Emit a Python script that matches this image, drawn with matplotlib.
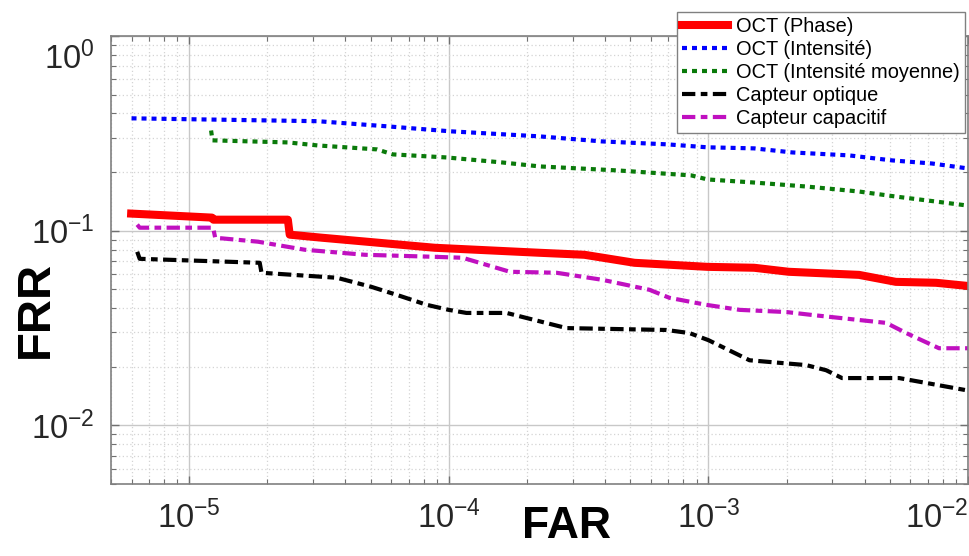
import matplotlib
matplotlib.use("Agg")
import matplotlib.pyplot as plt
from matplotlib.ticker import LogLocator, NullFormatter
from matplotlib.transforms import ScaledTranslation

plt.rcParams["font.family"] = ["Liberation Sans", "DejaVu Sans"]
plt.rcParams["mathtext.fontset"] = "custom"
plt.rcParams["mathtext.rm"] = "Liberation Sans"
plt.rcParams["mathtext.it"] = "Liberation Sans:italic"
plt.rcParams["mathtext.bf"] = "Liberation Sans:bold"

# --- data (FAR, FRR) ---
phase_far = [5.98e-6, 1.226e-5, 1.24e-5, 2.40e-5, 2.44e-5, 3.25e-5, 8.84e-5, 2.24e-4,
             3.33e-4, 5.19e-4, 9.91e-4, 1.50e-3, 2.04e-3, 3.80e-3, 5.27e-3, 7.53e-3, 1.0e-2]
phase_frr = [0.1224, 0.1167, 0.1139, 0.1139, 0.0954, 0.0920, 0.0817, 0.0770,
             0.0752, 0.0684, 0.0652, 0.0645, 0.0615, 0.0593, 0.0546, 0.0540, 0.0520]

intens_far = [6.0e-6, 3.13e-5, 5.77e-5, 1.01e-4, 2.24e-4, 3.87e-4, 6.96e-4, 9.91e-4,
              1.50e-3, 2.10e-3, 3.48e-3, 5.10e-3, 7.27e-3, 1.0e-2]
intens_frr = [0.3776, 0.365, 0.3436, 0.324, 0.305, 0.2875, 0.2775, 0.268,
              0.2647, 0.2523, 0.2436, 0.2296, 0.2213, 0.2087]

moy_far = [1.215e-5, 1.23e-5, 2.40e-5, 3.13e-5, 5.29e-5, 6.09e-5, 9.83e-5, 1.61e-4,
           2.24e-4, 4.47e-4, 8.6e-4, 9.91e-4, 1.50e-3, 2.38e-3, 3.80e-3, 5.27e-3,
           7.53e-3, 1.0e-2]
moy_frr = [0.327, 0.291, 0.284, 0.274, 0.2615, 0.2465, 0.2377, 0.224,
           0.2138, 0.2039, 0.1922, 0.1833, 0.1767, 0.1686, 0.1589, 0.1497,
           0.1411, 0.1345]

optique_far = [6.31e-6, 6.45e-6, 1.87e-5, 1.90e-5, 3.71e-5, 5.05e-5, 6.31e-5, 8.23e-5,
               1.0e-4, 1.17e-4, 1.67e-4, 2.84e-4, 6.89e-4, 8.45e-4, 1.0e-3, 1.44e-3,
               2.38e-3, 2.84e-3, 3.27e-3, 5.43e-3, 1.0e-2]
optique_frr = [0.0779, 0.0717, 0.0684, 0.0608, 0.0573, 0.0514, 0.0468, 0.0416,
               0.0392, 0.0378, 0.0378, 0.0316, 0.0309, 0.0298, 0.0274, 0.0216,
               0.0204, 0.0192, 0.0175, 0.0175, 0.0151]

capa_far = [6.31e-6, 6.45e-6, 1.237e-5, 1.26e-5, 1.84e-5, 2.79e-5, 4.75e-5, 8.84e-5,
            1.13e-4, 1.72e-4, 2.60e-4, 3.91e-4, 5.93e-4, 7.08e-4, 9.82e-4, 1.32e-3,
            2.0e-3, 2.51e-3, 4.84e-3, 5.78e-3, 7.73e-3, 1.0e-2]
capa_frr = [0.1074, 0.1036, 0.1036, 0.0920, 0.0878, 0.0798, 0.0752, 0.0734,
            0.0726, 0.0615, 0.0608, 0.0559, 0.0497, 0.0452, 0.0416, 0.0392,
            0.0382, 0.0369, 0.0336, 0.0298, 0.0249, 0.0249]

labels = ["OCT (Phase)", "OCT (Intensité)", "OCT (Intensité moyenne)",
          "Capteur optique", "Capteur capacitif"]

fig = plt.figure(figsize=(9.7, 5.56), dpi=100)
ax = fig.add_axes([0.1144, 0.1295, 0.8836, 0.8058])

dashdot = (3.2, 1.3, 1.6, 1.3)
ax.plot(phase_far, phase_frr, color="#ff0000", lw=5.8, solid_joinstyle="round",
        label=labels[0])
ax.plot(intens_far, intens_frr, color="#0000ff", lw=3, dashes=(1.2, 1.2),
        dash_capstyle="butt", label=labels[1])
ax.plot(moy_far, moy_frr, color="#0a7a0a", lw=3, dashes=(1.2, 1.2),
        dash_capstyle="butt", label=labels[2])
ax.plot(optique_far, optique_frr, color="black", lw=3, dashes=dashdot,
        dash_capstyle="butt", label=labels[3])
ax.plot(capa_far, capa_frr, color="#c010c0", lw=3, dashes=dashdot,
        dash_capstyle="butt", label=labels[4])

ax.set_xscale("log")
ax.set_yscale("log")
ax.set_xlim(5e-6, 1e-2)
ax.set_ylim(5e-3, 1.0)
ax.set_xticks([1e-5, 1e-4, 1e-3, 1e-2])
ax.set_xticklabels([r"$10^{-5}$", r"$10^{-4}$", r"$10^{-3}$", r"$10^{-2}$"])
ax.set_yticks([1e-2, 1e-1, 1e0])
ax.set_yticklabels([r"$10^{-2}$", r"$10^{-1}$", r"$10^{0}$"])
for axis in (ax.xaxis, ax.yaxis):
    axis.set_minor_locator(LogLocator(base=10, subs=range(2, 10), numticks=20))
    axis.set_minor_formatter(NullFormatter())

ax.tick_params(which="both", direction="in", top=True, right=True,
               color="#707070", labelcolor="#262626")
ax.tick_params(which="major", length=6, width=1, labelsize=23.5, pad=12)
ax.tick_params(which="minor", length=3.5, width=0.8)

ax.grid(which="major", color="#c8c8c8", lw=1, ls="-")
ax.grid(which="minor", color="#d4d4d4", lw=0.9, ls=(0, (1, 2)))
ax.set_axisbelow(True)
for sp in ax.spines.values():
    sp.set_color("#808080")
    sp.set_linewidth(1.2)

# nudge the edge labels inward like the reference
fig.canvas.draw()
top_lbl = ax.get_yticklabels()[-1]
top_lbl.set_verticalalignment("top")
top_lbl.set_transform(top_lbl.get_transform()
                      + ScaledTranslation(0, -0.06, fig.dpi_scale_trans))
ax.get_xticklabels()[-1].set_horizontalalignment("right")

ax.set_xlabel("FAR", fontsize=32, fontweight="bold")
ax.set_ylabel("FRR", fontsize=34, fontweight="bold")
ax.xaxis.set_label_coords(0.531, -0.05)
ax.yaxis.set_label_coords(-0.062, 0.39)

leg = fig.legend(loc="upper right", bbox_to_anchor=(0.9948, 0.9784),
                 fontsize=14.4, handlelength=2.3, handletextpad=0.4,
                 labelspacing=0.2, borderpad=0.25, borderaxespad=0,
                 fancybox=False, framealpha=1, edgecolor="#808080")
leg.get_frame().set_linewidth(1)

fig.savefig("out.png", dpi=100)
